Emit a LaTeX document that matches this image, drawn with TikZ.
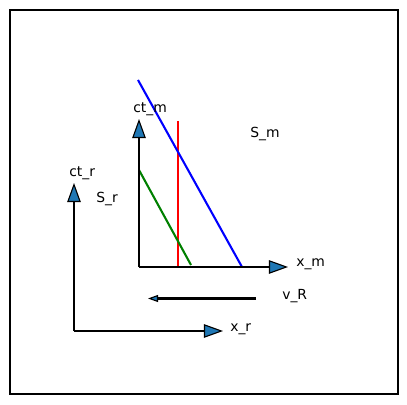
\documentclass[tikz,border=0pt]{standalone}
\usepackage{fontspec}
\setmainfont{DejaVu Sans}
\usepackage{xcolor}
\usetikzlibrary{arrows.meta}
\definecolor{mplblue}{HTML}{1F77B4}

\begin{document}
\begin{tikzpicture}[x=0.01in, y=-0.01in,
    axisarrow/.style={line width=1.5bp, -{Triangle[length=13.7bp, width=9.7bp, fill=mplblue, line width=0.8bp]}},
    lbl/.style={anchor=base west, inner sep=0pt, font=\fontsize{10bp}{12bp}\selectfont}]
    \useasboundingbox (0,0) rectangle (407,405);

    % Frame
    \draw[line width=0.8bp] (10,10) rectangle (398,394);

    % Origins and axis ends
    \coordinate (Om) at (139,267);
    \coordinate (ctm) at (139,119);
    \coordinate (xm) at (288,267);
    \coordinate (Or) at (74,331);
    \coordinate (ctr) at (74,183);
    \coordinate (xr) at (223,331);

    % World lines
    \draw[line width=1.5bp, red] (178,121) -- (178,267);
    \draw[line width=1.5bp, green!50!black] (139,170) -- (191,265);
    \draw[line width=1.5bp, blue] (138,80) -- (242,267);

    % Moving frame S_m
    \draw[axisarrow] (Om) -- (ctm);
    \draw[axisarrow] (Om) -- (xm);

    % Rest frame S_r
    \draw[axisarrow] (Or) -- (ctr);
    \draw[axisarrow] (Or) -- (xr);

    % Velocity
    \coordinate (vstart) at (256,298.5);
    \coordinate (vend) at (148,298.5);
    \draw[line width=1.5bp, -{Triangle[length=7.2bp, width=5bp, fill=mplblue, line width=0.8bp]}] (vstart) -- (vend);

    % Labels
    \node[lbl] (lctm) at (133,113) {ct\_m};
    \node[lbl] (lxm) at (296,267) {x\_m};
    \node[lbl] (lsm) at (250,138) {S\_m};
    \node[lbl] (lctr) at (69,177) {ct\_r};
    \node[lbl] (lxr) at (230,331) {x\_r};
    \node[lbl] (lsr) at (96,203) {S\_r};
    \node[lbl] (lvr) at (282,299.5) {v\_R};
\end{tikzpicture}
\end{document}
